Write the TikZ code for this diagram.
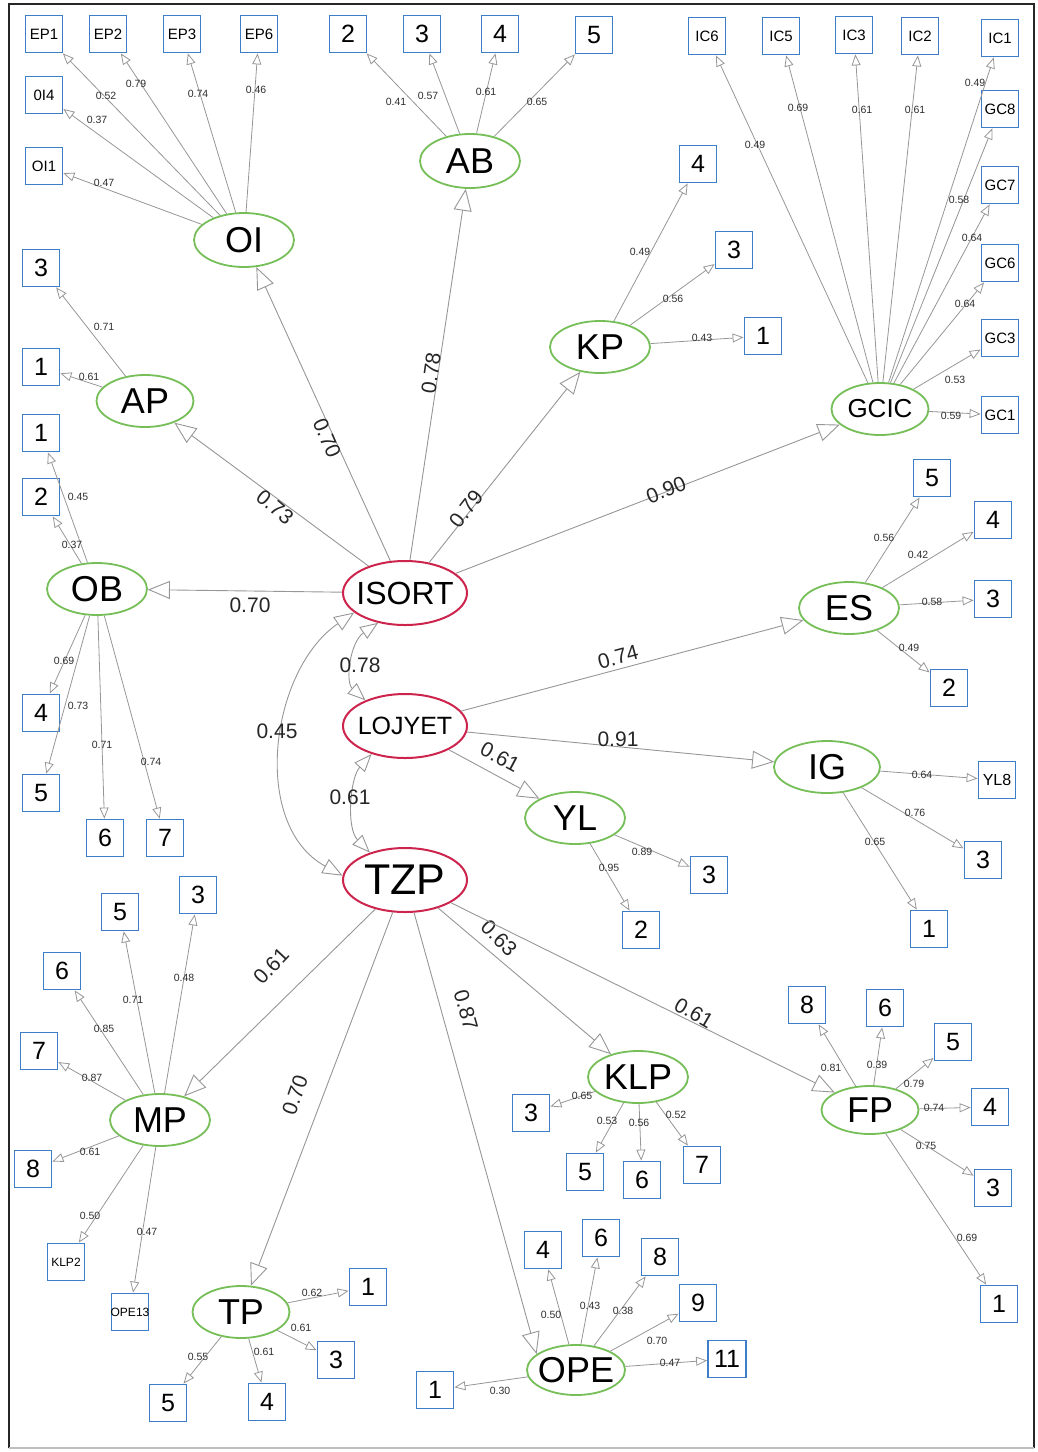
\documentclass[tikz,border=0pt]{standalone}
\usepackage{fontspec}
\setmainfont{Liberation Sans}
\usetikzlibrary{shapes.geometric,arrows.meta}

\definecolor{latgreen}{RGB}{118,190,88}
\definecolor{corered}{RGB}{204,36,76}
\definecolor{boxblue}{RGB}{62,126,200}
\definecolor{linegray}{RGB}{150,150,150}
\definecolor{labtext}{RGB}{45,45,45}

\newcommand\fs[1]{\fontsize{#1}{#1}\selectfont}
\newcommand\ctr[1]{\makebox[0pt][c]{#1}}
% loading arrow: latent -> indicator, with its coefficient
\newcommand\loadarrow[4]{\draw[loading] (#1) -- (#2) node[lw] at (#3) {#4};}
% structural path: construct -> latent, with rotated coefficient
\newcommand\effectarrow[5]{\draw[effect] (#1) -- (#2) node[pw, rotate=#4] at (#3) {#5};}

\tikzset{
  latent/.style={ellipse, draw=latgreen, line width=1.8pt, inner sep=0pt,
    minimum width=100pt, minimum height=52pt, font=\fs{36}},
  construct/.style={latent, draw=corered, line width=2pt,
    minimum width=124pt, minimum height=64pt},
  item/.style={rectangle, draw=boxblue, line width=1.8pt, fill=white,
    inner sep=0pt, minimum width=37pt, minimum height=37pt, font=\fs{25}},
  code/.style={item, font=\fs{15}},
  tinycode/.style={item, font=\fs{12}},
  loading/.style={draw=linegray, line width=0.8pt,
    -{Triangle[open, length=11pt, width=9pt]}},
  effect/.style={draw=linegray, line width=0.9pt,
    -{Triangle[open, length=22pt, width=18pt]}},
  corr/.style={draw=linegray, line width=0.9pt,
    {Triangle[open, length=18pt, width=14pt]}-{Triangle[open, length=18pt, width=14pt]}},
  lw/.style={font=\fs{10.5}, text=labtext, inner sep=0pt},
  pw/.style={font=\fs{21}, text=black!85, inner sep=0pt},
}

\begin{document}
\begin{tikzpicture}[x=1pt, y=-1pt]
\useasboundingbox (0,0) rectangle (1037,1452);

% frame
\draw[line width=2pt, black!85] (9,1448) -- (9,4) -- (1034,4) -- (1034,1448);
\draw[line width=1.5pt, black!25] (9,1448) -- (1034,1448);

% ---------- constructs ----------
\node[construct, font=\fs{32}] (isort) at (405,593) {\ctr{ISORT}};
\node[construct, font=\fs{25}] (lojyet) at (405,726) {\ctr{LOJYET}};
\node[construct, font=\fs{43}] (tzp) at (405,880) {\ctr{TZP}};

% ---------- latent dimensions ----------
\node[latent, minimum height=54pt] (oi) at (244,240) {\ctr{OI}};
\node[latent, minimum height=54pt] (ab) at (470,161) {\ctr{AB}};
\node[latent] (kp) at (600,347) {\ctr{KP}};
\node[latent, minimum width=97pt, font=\fs{26}] (gcic) at (880,409) {\ctr{GCIC}};
\node[latent, minimum width=97pt] (ap) at (145,401) {\ctr{AP}};
\node[latent] (ob) at (97,589) {\ctr{OB}};
\node[latent] (es) at (849,608) {\ctr{ES}};
\node[latent, minimum width=106pt] (ig) at (827,767) {\ctr{IG}};
\node[latent] (yl) at (575,818) {\ctr{YL}};
\node[latent] (mp) at (160,1120) {\ctr{MP}};
\node[latent, minimum width=97pt] (tp) at (241,1312) {\ctr{TP}};
\node[latent] (klp) at (638,1077) {\ctr{KLP}};
\node[latent, minimum width=97pt, minimum height=48pt] (fp) at (870,1110) {\ctr{FP}};
\node[latent, minimum width=98pt, minimum height=50pt] (ope) at (576,1370) {\ctr{OPE}};

% ---------- indicators ----------
% OI
\node[code] (ep1) at (44,34) {EP1};
\node[code] (ep2) at (108,34) {EP2};
\node[code] (ep3) at (182,34) {EP3};
\node[code] (ep6) at (259,34) {EP6};
\node[code] (oiq4) at (44,95) {0I4};
\node[code] (oiq1) at (44,166) {OI1};
% AB
\node[item] (ab2) at (348,34) {2};
\node[item] (ab3) at (422,34) {3};
\node[item] (ab4) at (500,34) {4};
\node[item] (ab5) at (594,35) {5};
% KP
\node[item] (kp4) at (698,164) {4};
\node[item] (kp3) at (734,250) {3};
\node[item] (kp1) at (763,336) {1};
% GCIC
\node[code] (ic6) at (707,36) {IC6};
\node[code] (ic5) at (781,36) {IC5};
\node[code] (ic3) at (854,35) {IC3};
\node[code] (ic2) at (920,36) {IC2};
\node[code] (ic1) at (1000,38) {IC1};
\node[code] (gc8) at (1000,109) {GC8};
\node[code] (gc7) at (1000,185) {GC7};
\node[code] (gc6) at (1000,263) {GC6};
\node[code] (gc3) at (1000,338) {GC3};
\node[code] (gc1) at (1000,415) {GC1};
% AP
\node[item] (ap3) at (41,268) {3};
\node[item] (ap1) at (41,367) {1};
% OB
\node[item] (ob1) at (41,433) {1};
\node[item] (ob2) at (41,497) {2};
\node[item] (ob4) at (41,713) {4};
\node[item] (ob5) at (41,793) {5};
\node[item] (ob6) at (105,838) {6};
\node[item] (ob7) at (165,838) {7};
% ES
\node[item] (es5) at (932,478) {5};
\node[item] (es4) at (993,520) {4};
\node[item] (es3) at (993,599) {3};
\node[item] (es2) at (949,688) {2};
% IG
\node[code, font=\fs{16}] (yl8) at (997,780) {YL8};
\node[item] (ig3) at (983,860) {3};
\node[item] (ig1) at (929,929) {1};
% YL
\node[item] (yl3) at (709,875) {3};
\node[item] (yl2) at (641,930) {2};
% MP
\node[item] (mp5) at (120,912) {5};
\node[item] (mp3) at (198,895) {3};
\node[item] (mp6) at (62,971) {6};
\node[item] (mp7) at (39,1051) {7};
\node[item] (mp8) at (33,1169) {8};
\node[tinycode] (klp2) at (66,1262) {KLP2};
\node[tinycode] (ope13) at (130,1312) {\ctr{OPE13}};
% TP
\node[item] (tp1) at (368,1287) {1};
\node[item] (tp3) at (336,1360) {3};
\node[item] (tp4) at (267,1402) {4};
\node[item] (tp5) at (168,1403) {5};
% KLP
\node[item] (klp3) at (531,1113) {3};
\node[item] (klp5) at (585,1172) {5};
\node[item] (klp6) at (642,1180) {6};
\node[item] (klp7) at (702,1165) {7};
% OPE
\node[item] (ope4) at (543,1250) {4};
\node[item] (ope6) at (601,1238) {6};
\node[item] (ope8) at (660,1257) {8};
\node[item] (ope9) at (698,1303) {9};
\node[item, minimum width=38pt] (ope11) at (727,1359) {11};
\node[item] (ope1) at (435,1390) {1};
% FP
\node[item] (fp8) at (807,1005) {8};
\node[item] (fp6) at (885,1008) {6};
\node[item] (fp5) at (953,1042) {5};
\node[item] (fp4) at (990,1107) {4};
\node[item] (fp3) at (993,1188) {3};
\node[item] (fp1) at (999,1304) {1};

% ---------- loadings ----------
\loadarrow{oi}{ep1}{106,96}{0.52}
\loadarrow{oi}{ep2}{136,84}{0.79}
\loadarrow{oi}{ep3}{198,94}{0.74}
\loadarrow{oi}{ep6}{256,90}{0.46}
\loadarrow{oi}{oiq4}{97,120}{0.37}
\loadarrow{oi}{oiq1}{104,183}{0.47}

\loadarrow{ab}{ab2}{396,102}{0.41}
\loadarrow{ab}{ab3}{428,96}{0.57}
\loadarrow{ab}{ab4}{486,92}{0.61}
\loadarrow{ab}{ab5}{537,102}{0.65}

\loadarrow{kp}{kp4}{640,252}{0.49}
\loadarrow{kp}{kp3}{673,299}{0.56}
\loadarrow{kp}{kp1}{702,338}{0.43}

\loadarrow{gcic}{ic6}{755,145}{0.49}
\loadarrow{gcic}{ic5}{798,108}{0.69}
\loadarrow{gcic}{ic3}{862,110}{0.61}
\loadarrow{gcic}{ic2}{915,110}{0.61}
\loadarrow{gcic}{ic1}{975,83}{0.49}
\loadarrow{gcic}{gc8}{959,200}{0.58}
\loadarrow{gcic}{gc7}{972,238}{0.64}
\loadarrow{gcic}{gc6}{965,304}{0.64}
\loadarrow{gcic}{gc3}{955,380}{0.53}
\loadarrow{gcic}{gc1}{951,416}{0.59}

\loadarrow{ap}{ap3}{104,327}{0.71}
\loadarrow{ap}{ap1}{89,377}{0.61}

\loadarrow{ob}{ob1}{78,497}{0.45}
\loadarrow{ob}{ob2}{72,545}{0.37}
\loadarrow{ob}{ob4}{64,661}{0.69}
\loadarrow{ob}{ob5}{78,706}{0.73}
\loadarrow{ob}{ob6}{102,745}{0.71}
\loadarrow{ob}{ob7}{151,762}{0.74}

\loadarrow{es}{es5}{884,538}{0.56}
\loadarrow{es}{es4}{918,555}{0.42}
\loadarrow{es}{es3}{932,602}{0.58}
\loadarrow{es}{es2}{909,648}{0.49}

\loadarrow{ig}{yl8}{922,775}{0.64}
\loadarrow{ig}{ig3}{915,813}{0.76}
\loadarrow{ig}{ig1}{875,842}{0.65}

\loadarrow{yl}{yl3}{642,852}{0.89}
\loadarrow{yl}{yl2}{609,868}{0.95}

\loadarrow{mp}{mp5}{133,1000}{0.71}
\loadarrow{mp}{mp3}{184,978}{0.48}
\loadarrow{mp}{mp6}{104,1029}{0.85}
\loadarrow{mp}{mp7}{92,1078}{0.87}
\loadarrow{mp}{mp8}{90,1152}{0.61}
\loadarrow{mp}{klp2}{90,1216}{0.50}
\loadarrow{mp}{ope13}{147,1232}{0.47}

\loadarrow{tp}{tp1}{312,1293}{0.62}
\loadarrow{tp}{tp3}{301,1328}{0.61}
\loadarrow{tp}{tp4}{264,1352}{0.61}
\loadarrow{tp}{tp5}{198,1357}{0.55}

\loadarrow{klp}{klp3}{582,1096}{0.65}
\loadarrow{klp}{klp5}{607,1121}{0.53}
\loadarrow{klp}{klp6}{639,1123}{0.56}
\loadarrow{klp}{klp7}{676,1115}{0.52}

\loadarrow{ope}{ope4}{551,1315}{0.50}
\loadarrow{ope}{ope6}{590,1306}{0.43}
\loadarrow{ope}{ope8}{623,1311}{0.38}
\loadarrow{ope}{ope9}{657,1341}{0.70}
\loadarrow{ope}{ope11}{670,1363}{0.47}
\loadarrow{ope}{ope1}{500,1391}{0.30}

\loadarrow{fp}{fp8}{831,1068}{0.81}
\loadarrow{fp}{fp6}{877,1065}{0.39}
\loadarrow{fp}{fp5}{914,1084}{0.79}
\loadarrow{fp}{fp4}{934,1108}{0.74}
\loadarrow{fp}{fp3}{926,1146}{0.75}
\loadarrow{fp}{fp1}{967,1238}{0.69}

% ---------- structural paths ----------
\effectarrow{isort}{oi}{327,438}{-67}{0.70}
\effectarrow{isort}{ab}{431,373}{82}{0.78}
\effectarrow{isort}{ap}{275,507}{-40}{0.73}
\effectarrow{isort}{kp}{466,509}{52}{0.79}
\effectarrow{isort}{gcic}{666,490}{22}{0.90}
\effectarrow{isort}{ob}{250,605}{0}{0.70}

\effectarrow{lojyet}{es}{618,657}{15}{0.74}
\effectarrow{lojyet}{ig}{618,739}{0}{0.91}
\effectarrow{lojyet}{yl}{500,757}{-28}{0.61}

\effectarrow{tzp}{mp}{271,966}{47}{0.61}
\effectarrow{tzp}{tp}{295,1095}{71}{0.70}
\effectarrow{tzp}{ope.158}{466,1010}{-74}{0.87}
\effectarrow{tzp}{klp}{499,938}{-45}{0.63}
\effectarrow{tzp}{fp}{694,1013}{-30}{0.61}

% ---------- correlations between constructs ----------
\draw[corr, {Triangle[open, length=20pt, width=16pt]}-{Triangle[open, length=20pt, width=16pt]}]
  (isort.201) .. controls (270,670) and (250,825) .. (tzp.176)
  node[pw] at (277,731) {0.45};
\draw[corr] (isort.228) .. controls (350,642) and (345,682) .. (lojyet.147)
  node[pw] at (360,665) {0.78};
\draw[corr] (lojyet.220) .. controls (350,778) and (346,828) .. (tzp.142)
  node[pw] at (350,797) {0.61};

\end{tikzpicture}
\end{document}
